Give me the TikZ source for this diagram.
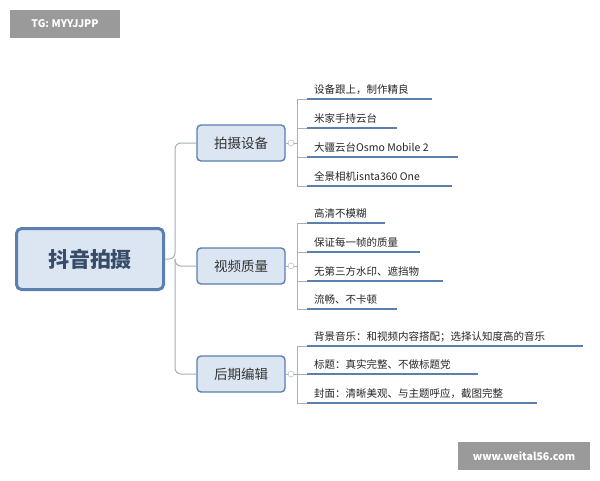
\documentclass[tikz,border=0pt]{standalone}
\usepackage{fontspec}
\setmainfont{Noto Sans CJK SC}
\definecolor{bblue}{HTML}{5B7FAE}
\definecolor{bfill}{HTML}{DCE6F2}
\definecolor{lgray}{HTML}{A8B0B8}
\definecolor{wm}{HTML}{9A9A9A}
\begin{document}
\begin{tikzpicture}[x=1pt,y=-1pt,
  rootbox/.style={draw=bblue,line width=3pt,fill=bfill,rounded corners=5pt,minimum width=147pt,minimum height=61pt,font=\fontsize{21}{24}\selectfont\bfseries,text=bblue!60!black},
  branchbox/.style={draw=bblue,line width=1.4pt,fill=bfill,rounded corners=4pt,minimum width=88pt,minimum height=36pt,font=\fontsize{13.5}{15}\selectfont,text=black!80},
  conn/.style={draw=lgray,line width=1pt,rounded corners=6pt},
  leafline/.style={draw=bblue,line width=1.8pt},
  leaftext/.style={anchor=south west,inner sep=2pt,font=\fontsize{10.5}{12}\selectfont,text=black!85},
  tog/.style={circle,draw=lgray,fill=white,inner sep=0pt,minimum size=6pt},
  wmbox/.style={fill=wm,text=white,font=\fontsize{10.5}{12}\selectfont\bfseries}]
\useasboundingbox (0,0) rectangle (600,480);
\fill[white] (0,0) rectangle (600,480);
\node[wmbox,minimum width=110pt,minimum height=28pt] (wm1) at (65,24) {TG: MYYJJPP};
\node[wmbox,minimum width=132pt,minimum height=28pt] (wm2) at (524,456) {www.weital56.com};

\node[rootbox] (root) at (90,259) {抖音拍摄};
\node[branchbox] (b1) at (241,143) {拍摄设备};
\node[branchbox] (b2) at (241,266) {视频质量};
\node[branchbox] (b3) at (241,374) {后期编辑};
\coordinate (j) at (175,259);
\draw[conn] (root.east) -- (j) |- (b1.west);
\draw[conn] (j) |- (b2.west);
\draw[conn] (j) |- (b3.west);

% group 1
\draw[conn,rounded corners=0pt] (b1.east) -- (297,143);
\draw[conn,rounded corners=0pt] (307,99) -- (297,99) -- (297,186) -- (307,186);
\draw[conn] (297,128) -- (307,128); \draw[conn] (297,157) -- (307,157);
\node[tog] (t1) at (291,143) {};
\coordinate (a1) at (307,99); \coordinate (e1) at (432,99);
\coordinate (a2) at (307,128); \coordinate (e2) at (397,128);
\coordinate (a3) at (307,157); \coordinate (e3) at (458,157);
\coordinate (a4) at (307,186); \coordinate (e4) at (452,186);
\draw[leafline] (a1) -- (e1); \node[leaftext] (l1) at (312,97) {设备跟上，制作精良};
\draw[leafline] (a2) -- (e2); \node[leaftext] (l2) at (312,126) {米家手持云台};
\draw[leafline] (a3) -- (e3); \node[leaftext] (l3) at (312,155) {大疆云台Osmo Mobile 2};
\draw[leafline] (a4) -- (e4); \node[leaftext] (l4) at (312,184) {全景相机isnta360 One};
% group 2
\draw[conn,rounded corners=0pt] (b2.east) -- (297,266);
\draw[conn,rounded corners=0pt] (307,223) -- (297,223) -- (297,309) -- (307,309);
\draw[conn] (297,252) -- (307,252); \draw[conn] (297,281) -- (307,281);
\node[tog] (t2) at (291,266) {};
\coordinate (c1) at (307,223); \coordinate (f1) at (385,223);
\coordinate (c2) at (307,252); \coordinate (f2) at (420,252);
\coordinate (c3) at (307,281); \coordinate (f3) at (443,281);
\coordinate (c4) at (307,309); \coordinate (f4) at (397,309);
\draw[leafline] (c1) -- (f1); \node[leaftext] (m1) at (312,221) {高清不模糊};
\draw[leafline] (c2) -- (f2); \node[leaftext] (m2) at (312,250) {保证每一帧的质量};
\draw[leafline] (c3) -- (f3); \node[leaftext] (m3) at (312,279) {无第三方水印、遮挡物};
\draw[leafline] (c4) -- (f4); \node[leaftext] (m4) at (312,307) {流畅、不卡顿};
% group 3
\draw[conn,rounded corners=0pt] (b3.east) -- (307,374);
\draw[conn,rounded corners=0pt] (307,346) -- (297,346) -- (297,403) -- (307,403);
\node[tog] (t3) at (291,374) {};
\coordinate (d1) at (307,346); \coordinate (g1) at (583,346);
\coordinate (d2) at (307,374); \coordinate (g2) at (478,374);
\coordinate (d3) at (307,403); \coordinate (g3) at (537,403);
\draw[leafline] (d1) -- (g1); \node[leaftext] (n1) at (312,344) {背景音乐：和视频内容搭配；选择认知度高的音乐};
\draw[leafline] (d2) -- (g2); \node[leaftext] (n2) at (312,372) {标题：真实完整、不做标题党};
\draw[leafline] (d3) -- (g3); \node[leaftext] (n3) at (312,401) {封面：清晰美观、与主题呼应，截图完整};
\end{tikzpicture}
\end{document}
